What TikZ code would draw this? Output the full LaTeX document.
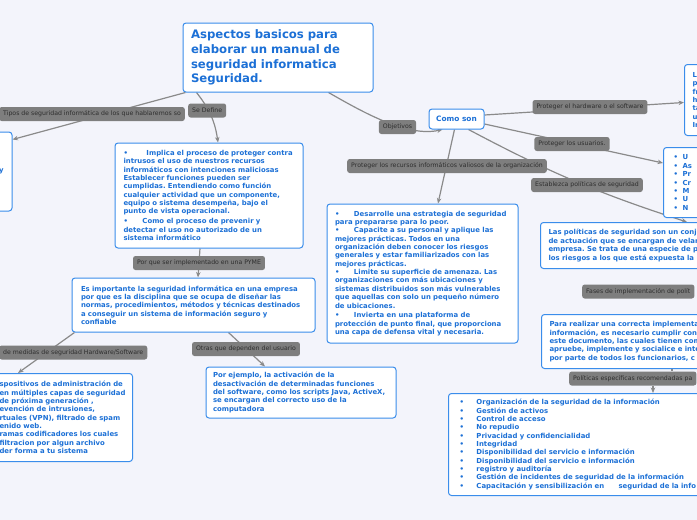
\documentclass[tikz,border=0pt]{standalone}
\usepackage{fontspec}
\setmainfont{DejaVu Sans}
\usepackage{xcolor}
\usetikzlibrary{arrows.meta}
\frenchspacing

\definecolor{fondo}{HTML}{F3F4FB}
\definecolor{cajaborde}{HTML}{3A8DEB}
\definecolor{textoazul}{HTML}{1C70D6}
\definecolor{gris}{HTML}{7E7E7E}
\definecolor{grisoscuro}{HTML}{2E2E2E}
\definecolor{linea}{HTML}{8A8A8A}

\pgfdeclarelayer{bg}
\pgfdeclarelayer{edges}
\pgfsetlayers{bg,edges,main}

\newcommand\punto[1]{\makebox[#1][l]{•}}

\tikzset{
  caja/.style={draw=cajaborde, fill=white, rounded corners=3pt, line width=1pt,
    text=textoazul, font=\bfseries\fontsize{6.9}{8.35}\selectfont, align=left, inner ysep=3pt},
  etiq/.style={fill=gris, rounded corners=2.5pt, text=grisoscuro,
    font=\fontsize{6.2}{7}\selectfont, inner xsep=4pt, inner ysep=0pt, minimum height=14pt},
  rama/.style={draw=linea, line width=1.2pt},
  flecha/.style={rama, -{Stealth[length=5.5pt,width=4.5pt]}},
}

\begin{document}
\begin{tikzpicture}[x=1pt,y=-1pt]
  \useasboundingbox (0,0) rectangle (697,520);
  \begin{pgfonlayer}{bg}
    \fill[fondo] (0,0) rectangle (697,520);
  \end{pgfonlayer}
  \clip (0,0) rectangle (697,520);

  \node[caja, font=\bfseries\fontsize{11.7}{14.7}\selectfont, minimum height=69pt,
    text width=174pt, inner xsep=8pt] (titulo) at (278,57.5)
    {Aspectos basicos para\\elaborar un manual de\\seguridad informatica\\Seguridad.};

  \node[caja, minimum height=79pt, text width=95pt, inner xsep=8.5pt, align=right]
    (tiposcaja) at (-44,171.5) {y};
  \node[etiq, anchor=west] (tipos) at (-1,114)
    {Tipos de seguridad informática de los que hablaremos so};
  \node[etiq, anchor=west] (sedefine) at (188,110.5) {Se Define};

  \node[caja, minimum height=105pt, text width=171pt, inner xsep=8.5pt] (implica) at (209,195.5)
    {\punto{23pt}Implica el proceso de proteger contra\\
     intrusos el uso de nuestros recursos\\
     informáticos con intenciones maliciosas\\
     Establecer funciones pueden ser\\
     cumplidas. Entendiendo como función\\
     cualquier actividad que un componente,\\
     equipo o sistema desempeña, bajo el\\
     punto de vista operacional.\\[1.7pt]
     \punto{19pt}Como el proceso de prevenir y\\
     detectar el uso no autorizado de un\\
     sistema informático};

  \node[etiq] (porque) at (199,263) {Por que ser implementado en una PYME};

  \node[caja, minimum height=54pt, text width=225pt, inner xsep=9pt] (importante) at (193.5,305)
    {Es importante la seguridad informática en una empresa\\
     por que es la disciplina que se ocupa de diseñar las\\
     normas, procedimientos, métodos y técnicas destinados\\
     a conseguir un sistema de información seguro y\\
     confiable};

  \node[etiq, anchor=west] (medidashw) at (-1,352.5) {de medidas de seguridad Hardware/Software};
  \node[caja, anchor=north east, minimum height=88pt, text width=125pt, inner xsep=8pt]
    (medidas) at (133,373)
    {\mbox{spositivos de administración de}\\
     \mbox{en múltiples capas de seguridad}\\
     de próxima generación ,\\
     evención de intrusiones,\\
     \mbox{rtuales (VPN), filtrado de spam}\\
     enido web.\\
     \mbox{ramas codificadores los cuales}\\
     filtracion por algun archivo\\
     der forma a tu sistema};

  \node[etiq] (otras) at (246,349) {Otras que dependen del usuario};
  \node[caja, minimum height=51pt, text width=176pt, inner xsep=7pt] (ejemplo) at (301,392.5)
    {Por ejemplo, la activación de la\\
     desactivación de determinadas funciones\\
     del software, como los scripts Java, ActiveX,\\
     se encargan del correcto uso de la\\
     computadora};

  \node[etiq] (objetivos) at (397.5,127) {Objetivos};
  \node[caja, font=\bfseries\fontsize{7.4}{9}\selectfont, minimum width=55pt, minimum height=20pt,
    align=center] (como) at (456.5,119) {Como son};

  \node[etiq] (protegerhw) at (590,107) {Proteger el hardware o el software};
  \node[caja, anchor=north west, minimum height=71pt, text width=80pt, inner xsep=8pt]
    (hwcaja) at (684,64) {L\\p\\fr\\h\\ta\\u\\In};

  \node[etiq] (usuarios) at (572,144) {Proteger los usuarios.};
  \node[caja, anchor=north west, minimum height=70pt, text width=80pt, inner xsep=10pt]
    (usuarioscaja) at (663,147)
    {\punto{9pt}U\\\punto{9pt}As\\\punto{9pt}Pr\\\punto{9pt}Cr\\\punto{9pt}M\\\punto{9pt}U\\\punto{9pt}N};

  \node[etiq] (recursos) at (447,166) {Proteger los recursos informáticos valiosos de la organización};
  \node[caja, minimum height=139pt, text width=175pt, inner xsep=8pt] (estrategias) at (422.5,273.5)
    {\punto{19pt}Desarrolle una estrategia de seguridad\\
     para prepararse para lo peor.\\
     \punto{19pt}Capacite a su personal y aplique las\\
     mejores prácticas. Todos en una\\
     organización deben conocer los riesgos\\
     generales y estar familiarizados con las\\
     mejores prácticas.\\
     \punto{19pt}Limite su superficie de amenaza. Las\\
     organizaciones con más ubicaciones y\\
     sistemas distribuidos son más vulnerables\\
     que aquellas con solo un pequeño número\\
     de ubicaciones.\\[1.5pt]
     \punto{19pt}Invierta en una plataforma de\\
     protección de punto final, que proporciona\\
     una capa de defensa vital y necesaria.};

  \node[etiq] (establezca) at (587,185) {Establezca políticas de seguridad};
  \node[caja, anchor=north west, minimum height=46pt, text width=250pt, inner xsep=8pt]
    (politicas) at (540,222)
    {Las políticas de seguridad son un conj\\
     de actuación que se encargan de velar\\
     empresa. Se trata de una especie de p\\
     los riesgos a los que está expuesta la};

  \node[etiq, anchor=west] (fases) at (582,291.5) {Fases de implementación de polít};
  \node[caja, anchor=north west, minimum height=54pt, text width=250pt, inner xsep=8pt]
    (realizar) at (541,314)
    {Para realizar una correcta implementa\\
     información, es necesario cumplir con\\
     este documento, las cuales tienen com\\
     apruebe, implemente y socialice e inte\\
     por parte de todos los funcionarios, c};

  \node[etiq, anchor=west] (especificas) at (569,378.5) {Políticas específicas recomendadas pa};
  \node[caja, anchor=north west, minimum height=102pt, text width=300pt, inner xsep=11pt]
    (dominios) at (448,393)
    {\punto{17pt}Organización de la seguridad de la información\\
     \punto{17pt}Gestión de activos\\
     \punto{17pt}Control de acceso\\
     \punto{17pt}No repudio\\
     \punto{17pt}Privacidad y confidencialidad\\
     \punto{17pt}Integridad\\
     \punto{17pt}Disponibilidad del servicio e información\\
     \punto{17pt}Disponibilidad del servicio e información\\
     \punto{17pt}registro y auditoría\\
     \punto{17pt}Gestión de incidentes de seguridad de la información\\
     \punto{17pt}Capacitación y sensibilización en\hspace{12pt} seguridad de la info};

  \begin{pgfonlayer}{edges}
    \draw[flecha] ([xshift=3pt]titulo.south west) -- ([yshift=-8pt]tiposcaja.north east);
    \draw[flecha] ([xshift=14pt]titulo.south west) to[bend left=15] ([xshift=9pt]implica.north);
    \draw[flecha] ([xshift=-45pt]titulo.south east) .. controls +(35,20) and +(-35,8) .. ([xshift=14pt]como.south west);
    \draw[flecha] ([xshift=-9pt]implica.south) -- ([xshift=4.5pt]importante.north);
    \draw[flecha] ([xshift=3pt]importante.south west) -- ([xshift=-115pt]medidas.north east);
    \draw[flecha] ([xshift=35pt]importante.south) -- ([xshift=-36pt]ejemplo.north);
    \draw[flecha] ([yshift=4pt]como.east) -- ([yshift=-2.5pt]hwcaja.west);
    \draw[flecha] ([yshift=-5pt]como.east) -- ([yshift=-16pt]usuarioscaja.north west);
    \draw[flecha] ([xshift=-2pt]como.south) -- ([xshift=15.5pt]estrategias.north);
    \draw[flecha] ([xshift=12pt]como.south) to[bend right=5] ([xshift=147pt]politicas.north west);
    \draw[rama] ([xshift=131pt]realizar.south west) -- ([xshift=103pt]especificas.north west);
    \draw[flecha] ([xshift=84pt]especificas.south west) -- ([xshift=205pt]dominios.north west);
  \end{pgfonlayer}
\end{tikzpicture}
\end{document}
